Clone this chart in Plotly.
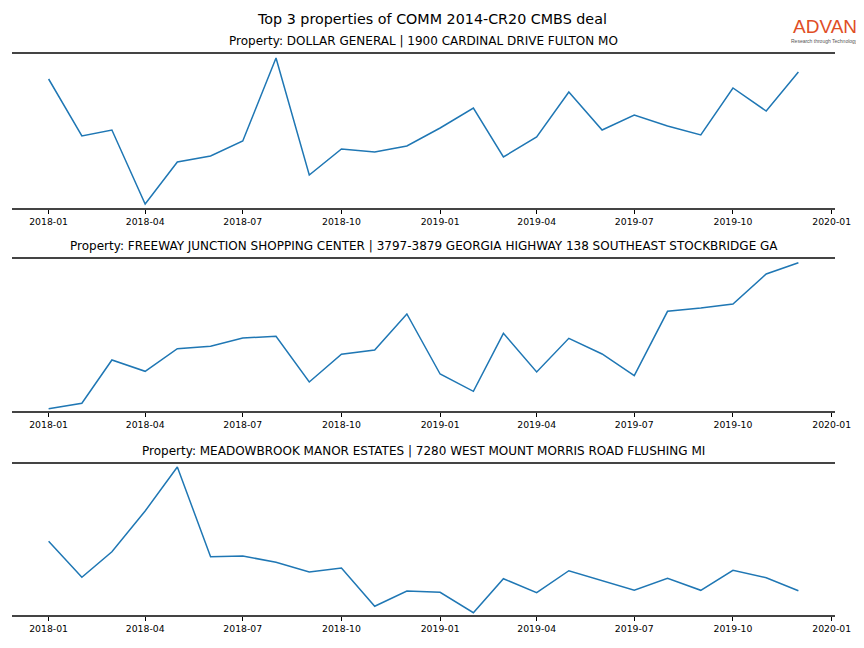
import plotly.graph_objects as go

months = ["2018-01-01", "2018-02-01", "2018-03-01", "2018-04-01", "2018-05-01", "2018-06-01",
          "2018-07-01", "2018-08-01", "2018-09-01", "2018-10-01", "2018-11-01", "2018-12-01",
          "2019-01-01", "2019-02-01", "2019-03-01", "2019-04-01", "2019-05-01", "2019-06-01",
          "2019-07-01", "2019-08-01", "2019-09-01", "2019-10-01", "2019-11-01", "2019-12-01"]

dollar_general = [129, 72, 78, 4, 46, 52, 67, 150, 33, 59, 56, 62,
                  80, 100, 51, 71, 116, 78, 93, 82, 73, 120, 97, 136]
freeway_junction = [2.3, 7.7, 51, 39.7, 62.3, 64.7, 73, 74.7, 29, 56.7, 61, 97,
                    37, 19.7, 77.7, 39, 72.7, 57, 35.3, 99.7, 103, 107, 137, 148.3]
meadowbrook = [73.7, 37.7, 63.3, 104, 148, 58.3, 59, 52.7, 43, 47, 8.7, 24,
               22.7, 2.3, 36.3, 22.3, 44.3, 34.7, 24.7, 36.7, 24.7, 44.7, 37.3, 24.3]

titles = ["Property: DOLLAR GENERAL | 1900 CARDINAL DRIVE FULTON MO",
          "Property: FREEWAY JUNCTION SHOPPING CENTER | 3797-3879 GEORGIA HIGHWAY 138 SOUTHEAST STOCKBRIDGE GA",
          "Property: MEADOWBROOK MANOR ESTATES | 7280 WEST MOUNT MORRIS ROAD FLUSHING MI"]
series = [dollar_general, freeway_junction, meadowbrook]
y_ranges = [[0, 154], [0, 152], [0, 151]]

# html body has an 8px margin; the rendered page maps 880 px of width onto the picture
OFF = 8
SX = 880 / 864
W, H = 864, 648 - 2 * OFF


def px_x(p):
    return (p * SX - OFF) / W


def px_y(p):
    return 1 - (p - OFF) / H


panels_px = [(54, 208), (259, 411), (464, 615)]  # top, bottom in picture px
x_dom = [px_x(12), px_x(835)]

fig = go.Figure()
font = "DejaVu Sans"
for i, (vals, (top, bot)) in enumerate(zip(series, panels_px)):
    n = "" if i == 0 else str(i + 1)
    fig.add_trace(go.Scatter(x=months, y=vals, mode="lines",
                             line=dict(color="#1f77b4", width=1.5),
                             xaxis="x" + n, yaxis="y" + n, showlegend=False,
                             hoverinfo="skip"))
    fig.update_layout(**{
        "xaxis" + n: dict(domain=x_dom, anchor="y" + n, type="date",
                          range=["2017-11-28", "2020-01-04"],
                          tick0="2018-01-01", dtick="M3", tickformat="%Y-%m",
                          ticks="outside", ticklen=4, tickwidth=1, tickcolor="#000",
                          showline=True, linecolor="#444", linewidth=2, mirror=True,
                          showgrid=False, zeroline=False,
                          tickfont=dict(family=font, size=9.3, color="#000")),
        "yaxis" + n: dict(domain=[px_y(bot), px_y(top)], anchor="x" + n,
                          range=y_ranges[i], showticklabels=False, ticks="",
                          showgrid=False, zeroline=False, showline=False),
    })
    fig.add_annotation(text=titles[i], xref="paper", yref="paper",
                       x=px_x((12 + 835) / 2), y=px_y(top - 4),
                       xanchor="center", yanchor="bottom", showarrow=False,
                       font=dict(family=font, size=12, color="#000"))

fig.add_annotation(text="Top 3 properties of COMM 2014-CR20 CMBS deal", xref="paper", yref="paper",
                   x=px_x(432), y=px_y(19), xanchor="center", yanchor="middle", showarrow=False,
                   font=dict(family=font, size=14.3, color="#000"))
fig.add_annotation(text="ADVAN", xref="paper", yref="paper",
                   x=px_x(825), y=px_y(39), xanchor="center", yanchor="bottom", showarrow=False,
                   font=dict(family="Liberation Sans", size=19, color="#e04e26"))
fig.add_annotation(text="Research through Technology", xref="paper", yref="paper",
                   x=px_x(825), y=px_y(36), xanchor="center", yanchor="top", showarrow=False,
                   font=dict(family="Liberation Sans", size=5, color="#555"))

fig.update_layout(width=W, height=H, margin=dict(l=0, r=0, t=0, b=0),
                  paper_bgcolor="white", plot_bgcolor="white", hovermode=False)

fig.write_html("out.html", config={"displayModeBar": False})
